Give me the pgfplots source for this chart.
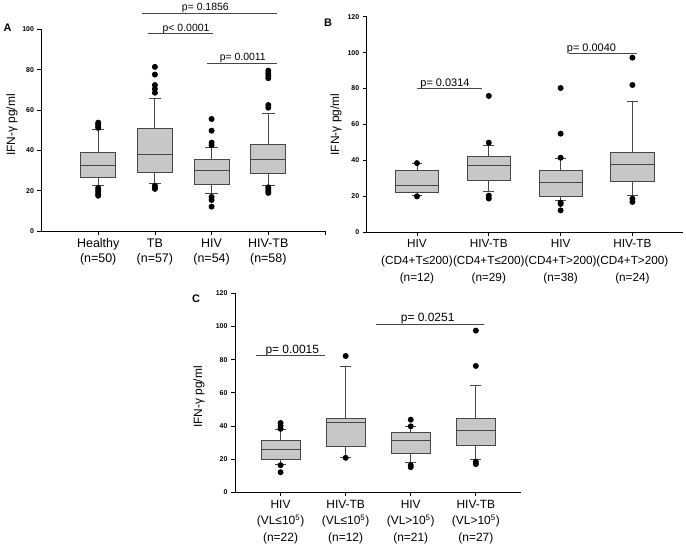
\documentclass[border=0pt]{standalone}
\usepackage{fontspec}
\setmainfont{Liberation Sans}
\usepackage{pgfplots}
\pgfplotsset{compat=1.18}
\usepgfplotslibrary{statistics}
\definecolor{boxfill}{gray}{0.78}
\definecolor{edge}{gray}{0.28}
\pgfplotsset{
  panel/.style={
    scale only axis, anchor=south west,
    axis lines*=left,
    axis line style={black, line width=0.8bp},
    tick style={black, line width=0.8bp},
    tick align=outside, major tick length=4bp,
    clip=false, ymin=0,
    /pgf/number format/assume math mode=true,
    yticklabel style={font=\fontsize{7}{8}\selectfont\bfseries},
    xticklabel style={align=center},
    ylabel={IFN-γ pg/ml},
    ylabel style={font=\fontsize{12}{14}\selectfont, anchor=center},
    boxplot/draw direction=y,
  },
  boxstyle/.style={fill=boxfill, draw=edge, line width=0.9bp, solid,
    mark=*, mark size=2.5bp, mark options={fill=black, draw=black, solid}},
  sig/.style={draw=edge, line width=0.9bp, no marks},
}
\begin{document}
\begin{tikzpicture}
\path[use as bounding box] (0,0) rectangle (686bp,544bp);
% ---------------- Panel A
\begin{axis}[panel, at={(41.5bp,312.7bp)}, width=283.5bp, height=202bp,
  xmin=0, xmax=5, ymax=100, ytick={0,20,...,100},
  xtick={1,2,3,4,5},
  xticklabels={{Healthy\\(n=50)},{TB\\(n=57)},{HIV\\(n=54)},{HIV-TB\\(n=58)},{}},
  xticklabel style={font=\fontsize{12.5}{15}\selectfont},
  ylabel style={at={(axis description cs:-0.104,0.526)}}]
\addplot+[boxplot prepared={draw position=1, lower whisker=22.6, lower quartile=26.6, median=32.5, upper quartile=39.1, upper whisker=50.3, box extend=0.615, whisker extend=0.22}, boxstyle]
  table[row sep=\\, y index=0] {53.8\\52.9\\52.0\\51.2\\21.5\\20.5\\19.5\\18.5\\17.6\\};
\addplot+[boxplot prepared={draw position=2, lower whisker=23.9, lower quartile=28.9, median=38.0, upper quartile=51.0, upper whisker=65.7, box extend=0.615, whisker extend=0.22}, boxstyle]
  table[row sep=\\, y index=0] {81.4\\77.6\\72.4\\70.5\\68.6\\22.6\\21.5\\21.0\\};
\addplot+[boxplot prepared={draw position=3, lower whisker=18.5, lower quartile=23.4, median=30.2, upper quartile=35.8, upper whisker=41.4, box extend=0.615, whisker extend=0.22}, boxstyle]
  table[row sep=\\, y index=0] {55.6\\49.8\\43.9\\42.6\\17.0\\15.5\\12.2\\};
\addplot+[boxplot prepared={draw position=4, lower whisker=22.8, lower quartile=28.5, median=35.8, upper quartile=42.9, upper whisker=58.1, box extend=0.615, whisker extend=0.22}, boxstyle]
  table[row sep=\\, y index=0] {79.5\\78.2\\77.0\\75.8\\62.5\\61.2\\21.8\\20.8\\19.8\\19.0\\};
\addplot[sig] coordinates {(1.78,108) (4.16,108)};
\addplot[sig] coordinates {(1.87,98) (3.02,98)};
\addplot[sig] coordinates {(2.92,83.2) (4.16,83.2)};
\node[anchor=base, yshift=2.5bp, inner sep=0, font=\fontsize{10.5}{12}\selectfont] at (axis cs:2.89,108) {p= 0.1856};
\node[anchor=base, yshift=2bp, inner sep=0, font=\fontsize{10.5}{12}\selectfont] at (axis cs:2.55,98) {p< 0.0001};
\node[anchor=base, yshift=2.5bp, inner sep=0, font=\fontsize{10.5}{12}\selectfont] at (axis cs:3.55,83.2) {p= 0.0011};
\end{axis}
% ---------------- Panel B
\begin{axis}[panel, at={(366.7bp,311.7bp)}, width=316bp, height=215.6bp,
  xmin=0.3, xmax=4.7, ymax=120, ytick={0,20,...,120},
  xtick={1,2,3,4},
  xticklabels={{HIV\\(CD4+T≤200)\\(n=12)},{HIV-TB\\(CD4+T≤200)\\(n=29)},{HIV\\(CD4+T>200)\\(n=38)},{HIV-TB\\(CD4+T>200)\\(n=24)}},
  xticklabel style={font=\fontsize{11.8}{17}\selectfont},
  ylabel style={at={(axis description cs:-0.097,0.5)}}]
\addplot+[boxplot prepared={draw position=1, lower whisker=20.6, lower quartile=22.4, median=26.2, upper quartile=34.7, upper whisker=38.2, box extend=0.6, whisker extend=0.15}, boxstyle]
  table[row sep=\\, y index=0] {38.5\\20.0\\};
\addplot+[boxplot prepared={draw position=2, lower whisker=22.6, lower quartile=29.1, median=37.1, upper quartile=42.3, upper whisker=48.6, box extend=0.6, whisker extend=0.15}, boxstyle]
  table[row sep=\\, y index=0] {75.9\\49.9\\20.4\\18.8\\};
\addplot+[boxplot prepared={draw position=3, lower whisker=17.8, lower quartile=20.2, median=27.8, upper quartile=34.7, upper whisker=41.0, box extend=0.6, whisker extend=0.15}, boxstyle]
  table[row sep=\\, y index=0] {80.3\\54.9\\41.5\\16.5\\15.8\\12.2\\};
\addplot+[boxplot prepared={draw position=4, lower whisker=20.4, lower quartile=28.2, median=37.5, upper quartile=44.3, upper whisker=72.7, box extend=0.6, whisker extend=0.15}, boxstyle]
  table[row sep=\\, y index=0] {97.2\\82.0\\18.7\\16.9\\};
\addplot[sig] coordinates {(1,80) (1.91,80)};
\addplot[sig] coordinates {(3.11,99.4) (4.07,99.4)};
\node[anchor=base, yshift=2.5bp, inner sep=0, font=\fontsize{11}{13}\selectfont] at (axis cs:1.39,80) {p= 0.0314};
\node[anchor=base, yshift=2.5bp, inner sep=0, font=\fontsize{11}{13}\selectfont] at (axis cs:3.43,99.4) {p= 0.0040};
\end{axis}
% ---------------- Panel C
\begin{axis}[panel, at={(235bp,51.7bp)}, width=286.4bp, height=199bp,
  xmin=0.3, xmax=4.7, ymax=120, ytick={0,20,...,120},
  xtick={1,2,3,4},
  xticklabels={{HIV\\(VL≤10\textsuperscript{5})\\(n=22)},{HIV-TB\\(VL≤10\textsuperscript{5})\\(n=12)},{HIV\\(VL>10\textsuperscript{5})\\(n=21)},{HIV-TB\\(VL>10\textsuperscript{5})\\(n=27)}},
  xticklabel style={font=\fontsize{12}{17}\selectfont},
  ylabel style={at={(axis description cs:-0.126,0.479)}}]
\addplot+[boxplot prepared={draw position=1, lower whisker=16.5, lower quartile=20.1, median=26.1, upper quartile=31.0, upper whisker=37.8, box extend=0.6, whisker extend=0.17}, boxstyle]
  table[row sep=\\, y index=0] {41.8\\40.0\\38.3\\16.3\\12.1\\};
\addplot+[boxplot prepared={draw position=2, lower whisker=21.1, lower quartile=27.9, median=42.4, upper quartile=44.6, upper whisker=75.8, box extend=0.6, whisker extend=0.17}, boxstyle]
  table[row sep=\\, y index=0] {82.2\\20.8\\};
\addplot+[boxplot prepared={draw position=3, lower whisker=18.1, lower quartile=23.5, median=31.4, upper quartile=36.2, upper whisker=39.6, box extend=0.6, whisker extend=0.17}, boxstyle]
  table[row sep=\\, y index=0] {43.8\\39.8\\16.3\\15.2\\};
\addplot+[boxplot prepared={draw position=4, lower whisker=20.1, lower quartile=28.5, median=37.2, upper quartile=44.6, upper whisker=64.3, box extend=0.6, whisker extend=0.17}, boxstyle]
  table[row sep=\\, y index=0] {97.5\\76.2\\18.4\\17.0\\};
\addplot[sig] coordinates {(0.63,82.4) (1.69,82.4)};
\addplot[sig] coordinates {(2.47,101.5) (4.12,101.5)};
\node[anchor=base, yshift=2.5bp, inner sep=0, font=\fontsize{12}{14}\selectfont] at (axis cs:1.18,82.4) {p= 0.0015};
\node[anchor=base, yshift=2.5bp, inner sep=0, font=\fontsize{12}{14}\selectfont] at (axis cs:3.26,101.5) {p= 0.0251};
\end{axis}
% panel letters
\node[font=\fontsize{11}{13}\selectfont\bfseries] at (7.5bp,516.5bp) {A};
\node[font=\fontsize{11}{13}\selectfont\bfseries] at (328bp,521.5bp) {B};
\node[font=\fontsize{11}{13}\selectfont\bfseries] at (196bp,245bp) {C};
\end{tikzpicture}
\end{document}
